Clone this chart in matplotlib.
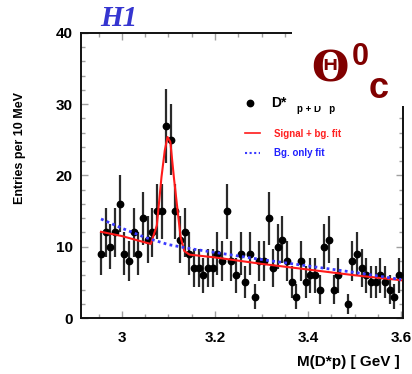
import matplotlib
matplotlib.use("Agg")
import matplotlib.pyplot as plt
from matplotlib.patches import Rectangle
from matplotlib.ticker import MultipleLocator
from matplotlib.lines import Line2D
import numpy as np

# -----------------------------
# data (10 MeV bins)
# -----------------------------
bin_centers = np.round(np.arange(2.955, 3.6, 0.01), 3)
counts = [9, 12, 10, 12, 16, 9, 8, 12, 9, 14,
          11, 12, 15, 15, 27, 25, 15, 11, 12, 9,
          7, 7, 6, 7, 7, 9, 8, 15, 8, 6,
          9, 5, 9, 3, 8, 8, 14, 7, 10, 11,
          8, 5, 3, 8, 5, 6, 6, 4, 10, 11,
          4, 6, np.nan, 2, 8, 9, 7, 6, 5, 5,
          6, 5, 4, 3, 6]

# signal + background fit
sig_x = [2.955, 3.00, 3.05, 3.062, 3.075, 3.085, 3.092, 3.098, 3.104, 3.112,
         3.118, 3.126, 3.134, 3.145, 3.2, 3.3, 3.4, 3.5, 3.6]
sig_y = [12.1, 11.5, 10.6, 10.4, 13.0, 19.8, 23.5, 25.4, 24.7, 19.5,
         16.0, 11.4, 9.4, 8.9, 8.5, 7.6, 6.8, 6.0, 5.3]

# background only fit (blue dotted)
bg_x = [2.955, 3.00, 3.05, 3.10, 3.15, 3.2, 3.3, 3.4, 3.5, 3.6]
bg_y = [13.9, 12.6, 11.3, 10.3, 9.7, 9.2, 8.2, 7.3, 6.4, 5.4]

counts = np.array(counts, dtype=float)
ok = ~np.isnan(counts)

# -----------------------------
# figure
# -----------------------------
W, H = 412, 374
fig = plt.figure(figsize=(W / 100, H / 100), dpi=100)
ax = fig.add_axes([81 / W, 1 - 318 / H, (403 - 81) / W, (318 - 33) / H])

bold = dict(family="Liberation Sans", weight="bold")

ax.errorbar(bin_centers[ok], counts[ok], yerr=np.sqrt(counts[ok]),
            fmt="o", color="black", ecolor="#2a2a2a", elinewidth=1.6,
            ms=4.6, capsize=0, zorder=3)
ax.plot(sig_x, sig_y, color="#ff1a1a", lw=1.5, zorder=4)
ax.plot(bg_x, bg_y, color="#3a3aff", lw=2.0, ls=(0, (1, 1.2)), zorder=4)

ax.set_xlim(2.912, 3.604)
ax.set_ylim(0, 40)
ax.xaxis.set_major_locator(MultipleLocator(0.2))
ax.xaxis.set_minor_locator(MultipleLocator(0.05))
ax.yaxis.set_major_locator(MultipleLocator(10))
ax.yaxis.set_minor_locator(MultipleLocator(2))
ax.tick_params(which="both", direction="in", top=True, right=True,
               color="#a0a0a0", width=1)
ax.tick_params(which="major", length=5, labelsize=11, pad=6)
ax.tick_params(which="minor", length=3)
ax.set_xticks([3.0, 3.2, 3.4, 3.6])
ax.set_xticklabels(["3", "3.2", "3.4", "3.6"])
for lab in ax.get_xticklabels() + ax.get_yticklabels():
    lab.set_fontfamily("Liberation Sans")
    lab.set_fontweight("bold")
ax.tick_params(axis="x", pad=9)
for s in ax.spines.values():
    s.set_linewidth(1.4)
    s.set_color("#111111")

fig.text(20 / W, 1 - 148 / H, "Entries per 10 MeV", rotation=90,
         ha="center", va="center", fontsize=9, **bold)
fig.text(400 / W, 1 - 362 / H, "M(D*p) [ GeV ]", ha="right", va="center",
         fontsize=11, **bold)

fig.text(100 / W, 1 - 19 / H, "H1", ha="left", va="center", fontsize=21,
         family="Liberation Serif", style="italic", weight="bold",
         color="#3535d0")

# legend
fig.text(297 / W, 1 - 109 / H, "p + D   p", ha="left", va="center",
         fontsize=7, zorder=1, **bold)
fig.patches.append(Rectangle((292 / W, 1 - 106 / H), 1, 1,
                             transform=fig.transFigure, facecolor="white",
                             edgecolor="none", zorder=2))
fig.lines.append(Line2D([250 / W], [1 - 103 / H], marker="o", ms=4.6,
                        color="black", transform=fig.transFigure))
fig.text(271 / W, 1 - 103 / H, "D*", ha="left", va="center", fontsize=10,
         zorder=3, **bold)
fig.lines.append(Line2D([245 / W, 260 / W], [1 - 133 / H] * 2,
                        color="#ff1a1a", lw=1.2, transform=fig.transFigure))
fig.text(274 / W, 1 - 134 / H, "Signal + bg. fit", ha="left", va="center",
         fontsize=7, color="#ff2020", **bold)
fig.lines.append(Line2D([245 / W, 260 / W], [1 - 153 / H] * 2,
                        color="#3a3aff", lw=1.5, ls=(0, (1, 1.2)),
                        transform=fig.transFigure))
fig.text(274 / W, 1 - 153 / H, "Bg. only fit", ha="left", va="center",
         fontsize=7, color="#2020ff", **bold)

# Theta_c^0 label
dark_red = "#800000"
fig.text(311 / W, 1 - 69 / H, "\u0398", ha="left", va="center", fontsize=31,
         family="DejaVu Serif", weight="bold", color=dark_red, zorder=4)
fig.text(352 / W, 1 - 57 / H, "0", ha="left", va="center", fontsize=22,
         color=dark_red, zorder=4, **bold)
fig.text(369 / W, 1 - 88 / H, "c", ha="left", va="center", fontsize=26,
         color=dark_red, zorder=4, **bold)

fig.savefig("out.png", dpi=100)
